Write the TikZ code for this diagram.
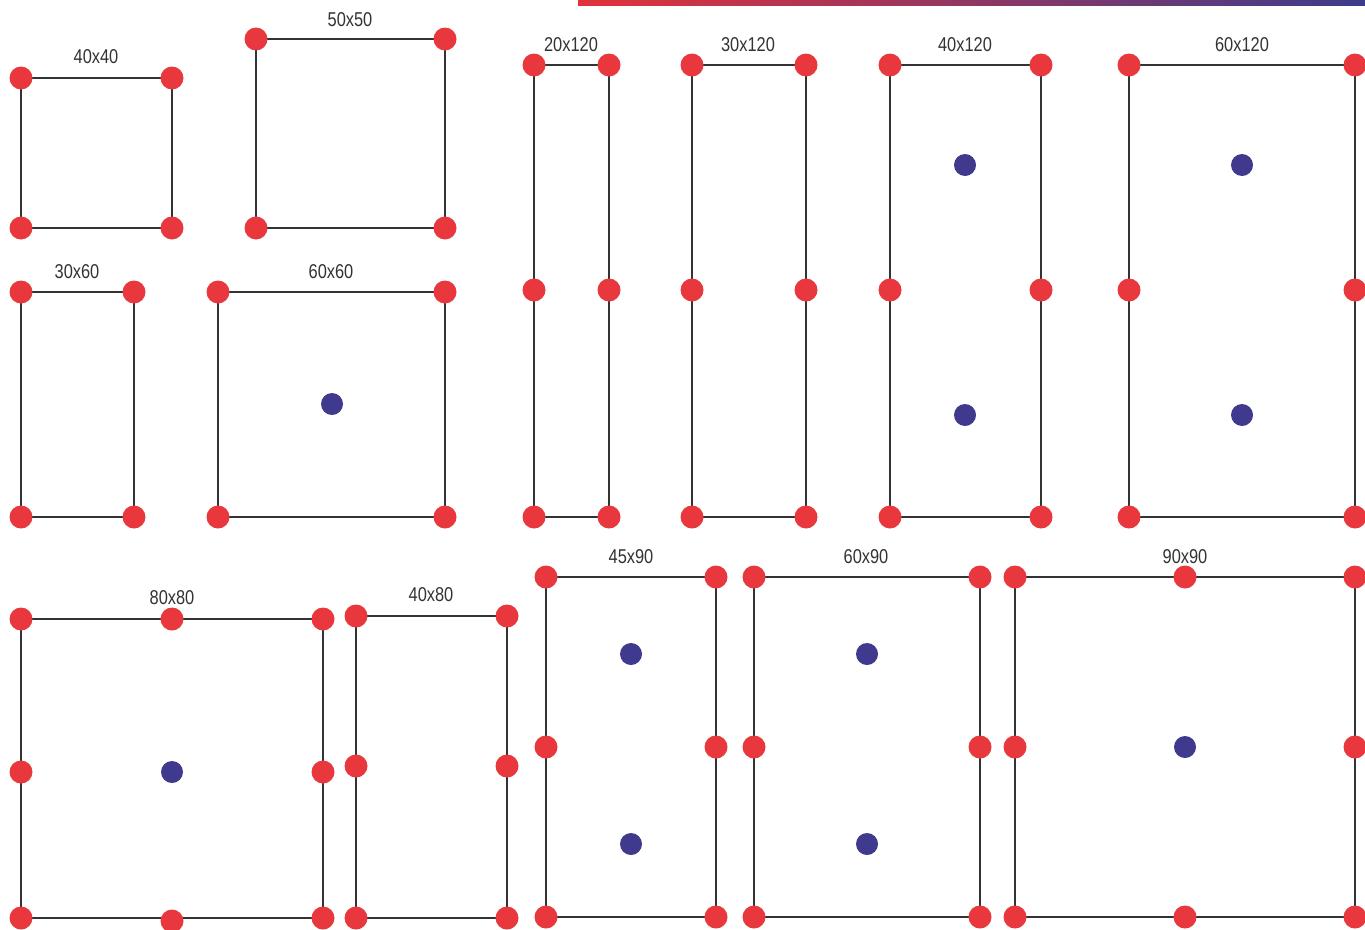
\documentclass[tikz,border=0pt]{standalone}
\usepackage{fontspec}
\setmainfont{Liberation Sans}[FakeStretch=0.82]
\usetikzlibrary{backgrounds}
\definecolor{dotred}{HTML}{E8383D}
\definecolor{dotblue}{HTML}{3F3A8E}
\definecolor{linegray}{HTML}{333333}
\definecolor{barred}{HTML}{E2323A}
\definecolor{barblue}{HTML}{3D3C8C}
\begin{document}
\begin{tikzpicture}[x=1pt,y=-1pt,
  rd/.style={circle,fill=dotred,inner sep=0pt,minimum size=23pt},
  bd/.style={circle,fill=dotblue,inner sep=0pt,minimum size=22pt},
  edge/.style={draw=linegray,line width=1.3pt},
  lbl/.style={font=\fontsize{20}{22}\selectfont,text=linegray,inner sep=0pt}]
\useasboundingbox (0,0) rectangle (1365,929);
\shade[left color=barred,right color=barblue] (578,0) rectangle (1365,5);

% ---------- 40x40
\node[rd] (a1) at (21,78) {}; \node[rd] (a2) at (172,78) {};
\node[rd] (a3) at (21,228) {}; \node[rd] (a4) at (172,228) {};
\node[lbl] (la) at (96,57) {40x40};
% ---------- 50x50
\node[rd] (b1) at (256,39) {}; \node[rd] (b2) at (445,39) {};
\node[rd] (b3) at (256,228) {}; \node[rd] (b4) at (445,228) {};
\node[lbl] (lb) at (350,19.5) {50x50};
% ---------- 30x60
\node[rd] (c1) at (21,292) {}; \node[rd] (c2) at (134,292) {};
\node[rd] (c3) at (21,517) {}; \node[rd] (c4) at (134,517) {};
\node[lbl] (lc) at (77,272) {30x60};
% ---------- 60x60
\node[rd] (d1) at (218,292) {}; \node[rd] (d2) at (445,292) {};
\node[rd] (d3) at (218,517) {}; \node[rd] (d4) at (445,517) {};
\node[bd] (dc) at (332,404) {};
\node[lbl] (ld) at (331,272) {60x60};
% ---------- 20x120
\node[rd] (e1) at (534,65) {}; \node[rd] (e2) at (609,65) {};
\node[rd] (e5) at (534,290) {}; \node[rd] (e6) at (609,290) {};
\node[rd] (e3) at (534,517) {}; \node[rd] (e4) at (609,517) {};
\node[lbl] (le) at (571,45) {20x120};
% ---------- 30x120
\node[rd] (f1) at (692,65) {}; \node[rd] (f2) at (806,65) {};
\node[rd] (f5) at (692,290) {}; \node[rd] (f6) at (806,290) {};
\node[rd] (f3) at (692,517) {}; \node[rd] (f4) at (806,517) {};
\node[lbl] (lf) at (748,45) {30x120};
% ---------- 40x120
\node[rd] (g1) at (890,65) {}; \node[rd] (g2) at (1041,65) {};
\node[rd] (g5) at (890,290) {}; \node[rd] (g6) at (1041,290) {};
\node[rd] (g3) at (890,517) {}; \node[rd] (g4) at (1041,517) {};
\node[bd] (gb1) at (965,165) {}; \node[bd] (gb2) at (965,415) {};
\node[lbl] (lg) at (965,45) {40x120};
% ---------- 60x120
\node[rd] (h1) at (1129,65) {}; \node[rd] (h2) at (1355,65) {};
\node[rd] (h5) at (1129,290) {}; \node[rd] (h6) at (1355,290) {};
\node[rd] (h3) at (1129,517) {}; \node[rd] (h4) at (1355,517) {};
\node[bd] (hb1) at (1242,165) {}; \node[bd] (hb2) at (1242,415) {};
\node[lbl] (lh) at (1242,45) {60x120};
% ---------- 80x80
\node[rd] (i1) at (21,619) {}; \node[rd] (i7) at (172,619) {}; \node[rd] (i2) at (323,619) {};
\node[rd] (i5) at (21,772) {}; \node[bd] (ic) at (172,772) {}; \node[rd] (i6) at (323,772) {};
\node[rd] (i3) at (21,918) {}; \node[rd] (i8) at (172,921) {}; \node[rd] (i4) at (323,918) {};
\node[lbl] (li) at (172,598) {80x80};
% ---------- 40x80
\node[rd] (j1) at (356,616) {}; \node[rd] (j2) at (507,616) {};
\node[rd] (j5) at (356,766) {}; \node[rd] (j6) at (507,766) {};
\node[rd] (j3) at (356,918) {}; \node[rd] (j4) at (507,918) {};
\node[lbl] (lj) at (431,595) {40x80};
% ---------- 45x90
\node[rd] (k1) at (546,577) {}; \node[rd] (k2) at (716,577) {};
\node[rd] (k5) at (546,747) {}; \node[rd] (k6) at (716,747) {};
\node[rd] (k3) at (546,917) {}; \node[rd] (k4) at (716,917) {};
\node[bd] (kb1) at (631,654) {}; \node[bd] (kb2) at (631,844) {};
\node[lbl] (lk) at (631,557) {45x90};
% ---------- 60x90
\node[rd] (m1) at (754,577) {}; \node[rd] (m2) at (980,577) {};
\node[rd] (m5) at (754,747) {}; \node[rd] (m6) at (980,747) {};
\node[rd] (m3) at (754,917) {}; \node[rd] (m4) at (980,917) {};
\node[bd] (mb1) at (867,654) {}; \node[bd] (mb2) at (867,844) {};
\node[lbl] (lm) at (866,557) {60x90};
% ---------- 90x90
\node[rd] (n1) at (1015,577) {}; \node[rd] (n7) at (1185,577) {}; \node[rd] (n2) at (1355,577) {};
\node[rd] (n5) at (1015,747) {}; \node[bd] (nc) at (1185,747) {}; \node[rd] (n6) at (1355,747) {};
\node[rd] (n3) at (1015,917) {}; \node[rd] (n8) at (1185,917) {}; \node[rd] (n4) at (1355,917) {};
\node[lbl] (ln) at (1185,557) {90x90};

\begin{scope}[on background layer]
\foreach \p in {a,b,c,d,e,f,g,h,i,j,k,m,n}{
  \draw[edge] (\p1.center) -- (\p2.center) -- (\p4.center) -- (\p3.center) -- cycle;
}
\end{scope}
\end{tikzpicture}
\end{document}
